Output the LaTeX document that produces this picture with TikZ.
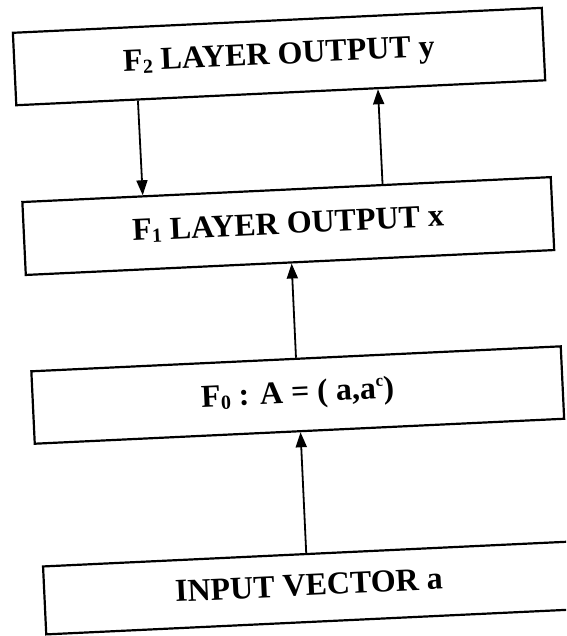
\documentclass[tikz,border=0pt]{standalone}
\usepackage{fontspec}
\setmainfont{Liberation Serif}
\usetikzlibrary{calc,arrows.meta}
\newcommand\lsub[1]{\raisebox{-3pt}{\fontsize{20}{20}\selectfont #1}}
\newcommand\lsup[1]{\raisebox{12pt}{\fontsize{17}{17}\selectfont #1}}
\begin{document}
\begin{tikzpicture}[x=1pt,y=1pt,
  layerbox/.style={draw=black, line width=2.2pt, rectangle, inner sep=0pt,
    anchor=south west, font=\fontsize{32}{32}\selectfont\bfseries,
    text height=22pt, text depth=7pt},
  flow/.style={line width=1.8pt, -{Triangle[length=15pt,width=11pt]}}]
\useasboundingbox (0,0) rectangle (566,636);
\fill[white] (0,0) rectangle (566,636);
\clip (0,0) rectangle (566,636);
\begin{scope}[rotate around={2.7:(283,318)}, transform shape]
  \node[layerbox, minimum width=529.5pt, minimum height=72.5pt] (f2) at (25.5,542)
    {F\lsub{2} LAYER OUTPUT y};
  \node[layerbox, minimum width=529pt, minimum height=73pt] (f1) at (27,372)
    {F\lsub{1} LAYER OUTPUT x};
  \node[layerbox, minimum width=530pt, minimum height=72.5pt] (f0) at (28,203)
    {F\lsub{0} : A = ( a,a\lsup{c})};
  \node[layerbox, minimum width=529.5pt, minimum height=68pt] (in) at (30.5,12)
    {INPUT VECTOR a};
  \draw[flow] ($(f2.south west)!0.231!(f2.south east)$) -- ($(f1.north west)!0.229!(f1.north east)$);
  \draw[flow] ($(f1.north west)!0.681!(f1.north east)$) -- ($(f2.south west)!0.683!(f2.south east)$);
  \draw[flow] ($(f0.north west)!0.5!(f0.north east)$) -- ($(f1.south west)!0.503!(f1.south east)$);
  \draw[flow] ($(in.north west)!0.4977!(in.north east)$) -- ($(f0.south west)!0.502!(f0.south east)$);
\end{scope}
\end{tikzpicture}
\end{document}
